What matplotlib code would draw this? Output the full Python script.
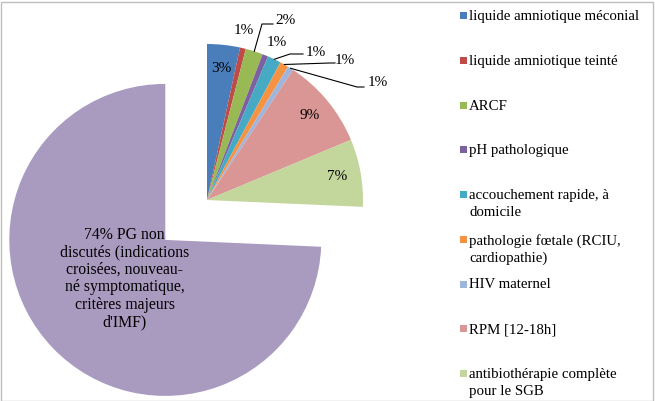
import numpy as np
import matplotlib.pyplot as plt
from matplotlib.patches import Rectangle

plt.rcParams['font.family'] = ['Liberation Serif', 'DejaVu Serif']

# Data (share of cases, %)
labels = ['liquide amniotique méconial', 'liquide amniotique teinté', 'ARCF',
          'pH pathologique', 'accouchement rapide, à\ndomicile',
          'pathologie fœtale (RCIU,\ncardiopathie)', 'HIV maternel',
          'RPM [12-18h]', 'antibiothérapie complète\npour le SGB',
          'PG non discutés']
values = [3.4, 0.6, 1.8, 0.6, 1.4, 0.9, 0.6, 9.4, 7.0, 74.3]
colors = ['#4A7EBB', '#BE4B48', '#98B954', '#7D60A0', '#46AAC5', '#F59343',
          '#A0B5DC', '#D99694', '#C3D69B', '#A99ABF']
big_text = "74% PG non\ndiscutés (indications\ncroisées, nouveau-\nné symptomatique,\ncritères majeurs\nd'IMF)"

W, H = 655, 401
cx, cy, scale = 207, 200, 156   # pie centre in pixels, pixels per unit

fig = plt.figure(figsize=(W / 100, H / 100), dpi=100)
ax = fig.add_axes([0, 0, 1, 1])

explode = [0] * 9 + [0.37]
wedges, _ = ax.pie(values, colors=colors, startangle=90, counterclock=False,
                   explode=explode, radius=1, wedgeprops=dict(linewidth=0))
ax.set_xlim(-cx / scale, (W - cx) / scale)
ax.set_ylim((cy - H) / scale, cy / scale)
ax.set_aspect('equal')
ax.axis('off')


def px(x, y):
    return (x - cx) / scale, (cy - y) / scale


def mid(w):
    a = np.deg2rad((w.theta1 + w.theta2) / 2)
    return np.cos(a), np.sin(a)


fs = 11
# labels inside the slices
for i in [0, 7, 8]:
    c, s = mid(wedges[i])
    ax.text(0.85 * c, 0.85 * s, f'{round(values[i])}%', ha='center', va='center', fontsize=fs)

# big exploded slice
c, s = mid(wedges[9])
ax.text(0.37 * c + 0.36 * c, 0.37 * s + 0.36 * s, big_text, ha='center', va='center',
        fontsize=11.3, linespacing=1.12)

# small labels outside, without leader
for i, (x, y) in [(1, (244, 30)), (3, (277, 43))]:
    ax.text(*px(x, y), f'{round(values[i])}%', ha='center', va='center', fontsize=fs)

# small labels with leader lines: (slice, label centre, elbow, end)
leaders = [(2, (285, 20), (262, 24), (273, 24)),
           (4, (316, 52), (290, 54), (303, 54)),
           (5, (345, 60), (330, 63), (335, 63)),
           (6, (378, 83), (357, 87), (364, 87))]
for i, t, e, f in leaders:
    c, s = mid(wedges[i])
    xs = [c, px(*e)[0], px(*f)[0]]
    ys = [s, px(*e)[1], px(*f)[1]]
    ax.plot(xs, ys, color='black', lw=0.8)
    ax.text(*px(*t), f'{round(values[i])}%', ha='center', va='center', fontsize=fs)

# legend (Excel style: fixed step per entry)
for i in range(9):
    yb = 22 + i * 44.75   # baseline of first line, pixels from top
    fig.patches.append(Rectangle((460 / W, 1 - (yb - 3) / H), 7 / W, 7 / H,
                                 transform=fig.transFigure, facecolor=colors[i],
                                 edgecolor='none'))
    fig.text(469 / W, 1 - (yb - 12) / H, labels[i], ha='left', va='top',
             fontsize=10.7, linespacing=1.4)

# chart border
fig.patches.append(Rectangle((0.5 / W, 0.5 / H), (W - 3) / W, (H - 2.5) / H,
                             transform=fig.transFigure, fill=False,
                             edgecolor='#BFBFBF', lw=1))

fig.savefig('out.png', dpi=100)
